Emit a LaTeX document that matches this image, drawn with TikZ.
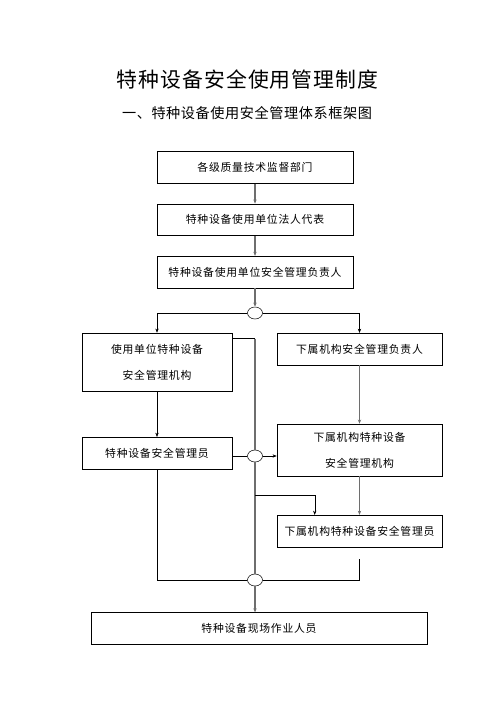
\documentclass[tikz,border=0pt]{standalone}
\usepackage{fontspec}
\setmainfont{Noto Sans CJK SC}
\newfontfamily\boxfont[LetterSpace=7]{Noto Sans CJK SC}
\newfontfamily\titlefont[LetterSpace=5]{Noto Sans CJK SC}
\newfontfamily\subtitlefont[LetterSpace=4]{Noto Sans CJK SC}
\usepackage{xcolor}
\usepackage{tikz}
\usetikzlibrary{positioning}
\usetikzlibrary{arrows.meta}
\usetikzlibrary{shapes.geometric}
\definecolor{trunkgray}{RGB}{110,110,110}
\tikzset{
  myarrow/.style={
    draw=black,
    line width=0.5pt,
    -{Stealth[length=5pt,width=4pt]},
  },
  myline/.style={
    draw=black,
    line width=0.5pt,
  },
  mytrunk/.style={
    draw=trunkgray,
    line width=1.3pt,
  },
  myrectangle/.style={
    draw=black,
    shape=rectangle,
    line width=0.7pt,
    align=center,
    inner sep=0pt,
    minimum height=38pt,
    font=\boxfont\fontsize{13}{31}\selectfont
  },
  myjunction/.style={
    draw=black,
    shape=ellipse,
    line width=0.6pt,
    fill=white,
    inner sep=0pt,
    minimum width=18pt,
    minimum height=14.4pt,
  }
}

\begin{document}
\begin{tikzpicture}[x=1.2pt,y=-1.2pt]
    \useasboundingbox (0,0) rectangle (496,702);
    \node[font=\titlefont\fontsize{25}{30}\selectfont]    (title)    at (247.5,80) {特种设备安全使用管理制度};
    \node[font=\subtitlefont\fontsize{17}{20}\selectfont] (subtitle) at (247,113)  {一、特种设备使用安全管理体系框架图};

    \node[myrectangle, minimum width=235.2pt] (supervise) at (255,167.5)            {各级质量技术监督部门};
    \node[myrectangle, minimum width=235.2pt] (legal)     [below=24pt of supervise] {特种设备使用单位法人代表};
    \node[myrectangle, minimum width=235.2pt] (head)      [below=24pt of legal]     {特种设备使用单位安全管理负责人};
    \node[myjunction]                         (hub1)      at (255,313)              {};
    \node[myrectangle, minimum width=180pt, minimum height=69.6pt] (dept)     at (157,362)   {使用单位特种设备\\安全管理机构};
    \node[myrectangle, minimum width=198pt]                        (subhead)  at (359.5,349) {下属机构安全管理负责人};
    \node[myrectangle, minimum width=180pt]                        (admin)    at (157,453)   {特种设备安全管理员};
    \node[myrectangle, minimum width=198pt, minimum height=62.4pt] (subdept)  at (359.5,450) {下属机构特种设备\\安全管理机构};
    \node[myjunction]                                              (hub2)     at (255,456)   {};
    \node[myrectangle, minimum width=198pt]                        (subadmin) at (359.5,531) {下属机构特种设备安全管理员};
    \node[myjunction]                                              (hub3)     at (255,580)   {};
    \node[myrectangle, minimum width=403.2pt]                      (workers)  at (259,628.5) {特种设备现场作业人员};

    \coordinate (deptout) at ([yshift=-7pt]dept.north east);
    \coordinate (deptturn) at (deptout -| hub1);
    \coordinate (fork) at (255,495);

    \draw[mytrunk, -{Stealth[length=5pt,width=4pt]}] (supervise) -- (legal);
    \draw[mytrunk, -{Stealth[length=5pt,width=4pt]}] (legal) -- (head);
    \draw[mytrunk, -{Stealth[length=5pt,width=4pt]}] (head) -- (hub1);
    \draw[myarrow] (hub1.west) -| (dept.north);
    \draw[myarrow] (hub1.east) -| (subhead.north);
    \draw[myline] (deptout) -- (deptturn);
    \draw[mytrunk] (deptturn) -- (hub2.north);
    \draw[mytrunk] (hub2.south) -- (hub3.north);
    \draw[mytrunk, -{Stealth[length=5pt,width=4pt]}] (hub3.south) -- (hub3 |- workers.north);
    \draw[myarrow] (dept) -- (admin);
    \draw[myline] (admin.east |- hub2) -- (hub2.west);
    \draw[myarrow] (hub2.east) -- (hub2 -| subdept.west);
    \draw[mytrunk, -{Stealth[length=5pt,width=4pt]}] (subhead) -- (subdept);
    \draw[mytrunk, -{Stealth[length=5pt,width=4pt]}] (subdept) -- (subadmin);
    \draw[myarrow] (fork) -| ([xshift=45.6pt]subadmin.north west);
    \draw[myline] (admin.south) |- (hub3.west);
    \draw[myline] ([yshift=-14.4pt]subadmin.south) |- (hub3.east);
  \end{tikzpicture}
\end{document}
